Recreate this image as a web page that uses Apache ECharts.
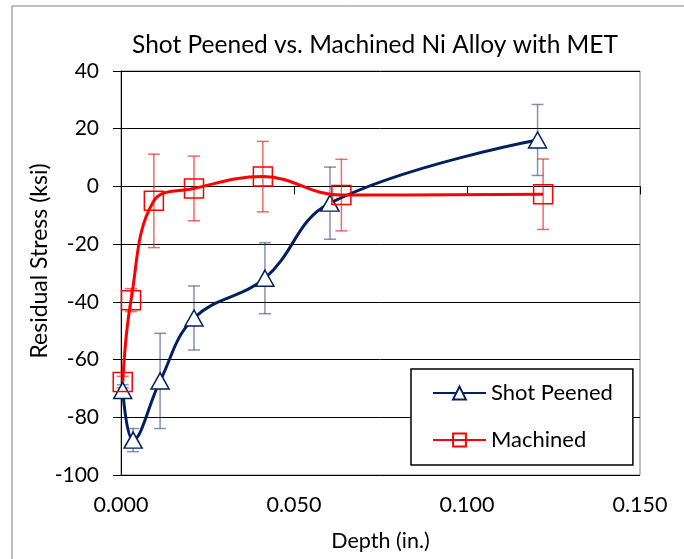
<!DOCTYPE html>
<html><head><meta charset="utf-8">
<script src="https://cdn.jsdelivr.net/npm/echarts@6/dist/echarts.min.js"></script>
<style>html,body{margin:0;padding:0;background:#fff}#c{width:684px;height:559px}</style>
</head><body><div id="c"></div>
<script>
const titleText = 'Shot Peened vs. Machined Ni Alloy with MET';
const xAxisTitle = 'Depth (in.)';
const yAxisTitle = 'Residual Stress (ksi)';
const xTicks = [0, 0.05, 0.1, 0.15];
const yTicks = [-100, -80, -60, -40, -20, 0, 20, 40];
const seriesNames = ['Shot Peened', 'Machined'];
const spDepth  = [0.0005, 0.0035, 0.0113, 0.0211, 0.0416, 0.0604, 0.1204];
const spStress = [-70.7, -87.9, -67.4, -45.6, -31.8, -5.8, 16.1];
const spErr    = [2, 4, 16.5, 11.1, 12.3, 12.5, 12.3];
const mDepth   = [0.0005, 0.0029, 0.0095, 0.0211, 0.0410, 0.0637, 0.1220];
const mStress  = [-67.8, -39.4, -5.0, -0.7, 3.4, -3.0, -2.7];
const mErr     = [2, 4, 16.2, 11.2, 12.2, 12.4, 12.2];

const FONT = 'Lato';
const navy = '#002060';
const red = '#ff0000';

function pts(xs, ys) { return xs.map((x, i) => [x, ys[i]]); }
function errData(xs, ys, es) { return xs.map((x, i) => [x, ys[i] - es[i], ys[i] + es[i]]); }
function errRender(color) {
  return function (params, api) {
    const x = api.value(0);
    const lo = api.coord([x, api.value(1)]);
    const hi = api.coord([x, api.value(2)]);
    const w = 6;
    const st = { stroke: color, lineWidth: 1.5 };
    return { type: 'group', children: [
      { type: 'line', shape: { x1: lo[0], y1: lo[1], x2: hi[0], y2: hi[1] }, style: st },
      { type: 'line', shape: { x1: lo[0] - w, y1: lo[1], x2: lo[0] + w, y2: lo[1] }, style: st },
      { type: 'line', shape: { x1: hi[0] - w, y1: hi[1], x2: hi[0] + w, y2: hi[1] }, style: st }
    ]};
  };
}

const chart = echarts.init(document.getElementById('c'), null, { renderer: 'canvas' });
chart.setOption({
  animation: false,
  textStyle: { fontFamily: FONT },
  title: { text: titleText, left: 370, top: 28, textAlign: 'center',
    textStyle: { fontFamily: FONT, fontSize: 24.5, fontWeight: 'normal', color: '#000' } },
  graphic: [
    { type: 'rect', shape: { x: 12, y: 6, width: 700, height: 600 }, style: { fill: 'none', stroke: '#808080', lineWidth: 1 }, silent: true },
    { type: 'text', x: 40, y: 261, rotation: Math.PI / 2, silent: true,
      style: { text: yAxisTitle, fontFamily: FONT, fontSize: 23, fill: '#000', align: 'center', verticalAlign: 'middle' } }
  ],
  grid: { left: 121, top: 71, width: 519, height: 404, show: true, borderColor: '#808080', borderWidth: 1, backgroundColor: 'transparent' },
  legend: {
    orient: 'vertical', left: 411, top: 369,
    padding: [13, 20, 14, 21], itemGap: 25, itemWidth: 53, itemHeight: 16,
    borderColor: '#000', borderWidth: 1.5, backgroundColor: '#fff',
    textStyle: { fontFamily: FONT, fontSize: 22, color: '#000' },
    data: seriesNames
  },
  xAxis: {
    type: 'value', min: xTicks[0], max: xTicks[xTicks.length - 1], interval: 0.05,
    name: xAxisTitle, nameLocation: 'middle', nameGap: 55,
    nameTextStyle: { fontFamily: FONT, fontSize: 21.5, color: '#000' },
    axisLine: { lineStyle: { color: '#000', width: 1 } },
    axisTick: { show: true, inside: false, length: 8, lineStyle: { color: '#000' } },
    splitLine: { show: false },
    axisLabel: { fontFamily: FONT, fontSize: 21.5, color: '#000', margin: 19, formatter: v => v.toFixed(3) }
  },
  yAxis: {
    type: 'value', min: yTicks[0], max: yTicks[yTicks.length - 1], interval: 20,
    axisLine: { show: true, lineStyle: { color: '#000', width: 1 } },
    axisTick: { show: true, inside: false, length: 8, lineStyle: { color: '#000' } },
    splitLine: { show: true, lineStyle: { color: '#000', width: 1 } },
    axisLabel: { fontFamily: FONT, fontSize: 21, color: '#000', margin: 22 }
  },
  series: [
    { name: 'spErr', type: 'custom', renderItem: errRender('rgba(40,50,120,0.55)'), data: errData(spDepth, spStress, spErr), z: 2, silent: true },
    { name: 'mErr', type: 'custom', renderItem: errRender('rgba(240,40,40,0.7)'), data: errData(mDepth, mStress, mErr), z: 2, silent: true },
    { name: seriesNames[0], type: 'line', data: pts(spDepth, spStress), smooth: 0.4,
      symbol: 'triangle', symbolSize: [18, 16],
      lineStyle: { color: navy, width: 3 },
      itemStyle: { color: '#fff', borderColor: navy, borderWidth: 1.5 }, z: 3 },
    { name: seriesNames[1], type: 'line', data: pts(mDepth, mStress), smooth: 0.4,
      symbol: 'rect', symbolSize: [19, 19],
      lineStyle: { color: red, width: 3 },
      itemStyle: { color: 'rgba(255,255,255,0)', borderColor: red, borderWidth: 1.5 }, z: 4 }
  ]
});
</script></body></html>
